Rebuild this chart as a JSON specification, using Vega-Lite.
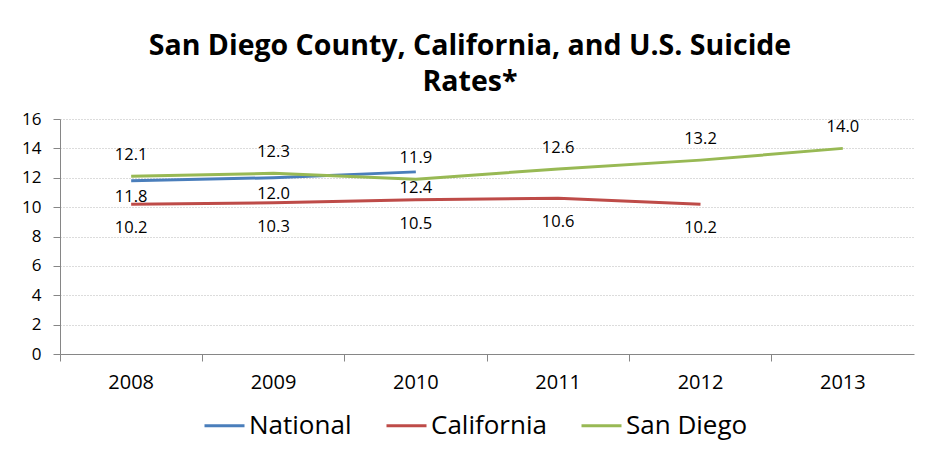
{
  "$schema": "https://vega.github.io/schema/vega-lite/v6.json",
  "width": 854,
  "height": 235,
  "autosize": {"type": "none"},
  "padding": {"left": 60, "top": 119, "right": 23, "bottom": 99},
  "background": "white",
  "title": {
    "text": ["San Diego County, California, and U.S. Suicide", "Rates*"],
    "font": "Open Sans",
    "fontWeight": "bold",
    "fontSize": 28.5,
    "lineHeight": 36,
    "color": "#000000",
    "anchor": "middle",
    "dx": -17,
    "offset": 14
  },
  "data": {
    "values": [
      {"year": "2008", "series": "National", "rate": 11.8},
      {"year": "2009", "series": "National", "rate": 12.0},
      {"year": "2010", "series": "National", "rate": 12.4},
      {"year": "2008", "series": "California", "rate": 10.2},
      {"year": "2009", "series": "California", "rate": 10.3},
      {"year": "2010", "series": "California", "rate": 10.5},
      {"year": "2011", "series": "California", "rate": 10.6},
      {"year": "2012", "series": "California", "rate": 10.2},
      {"year": "2008", "series": "San Diego", "rate": 12.1},
      {"year": "2009", "series": "San Diego", "rate": 12.3},
      {"year": "2010", "series": "San Diego", "rate": 11.9},
      {"year": "2011", "series": "San Diego", "rate": 12.6},
      {"year": "2012", "series": "San Diego", "rate": 13.2},
      {"year": "2013", "series": "San Diego", "rate": 14.0}
    ]
  },
  "encoding": {
    "x": {
      "field": "year",
      "type": "ordinal",
      "scale": {"type": "band", "paddingInner": 0, "paddingOuter": 0, "domain": ["2008", "2009", "2010", "2011", "2012", "2013"]}
    },
    "y": {
      "field": "rate",
      "type": "quantitative",
      "scale": {"domain": [0, 16], "nice": false, "zero": true},
      "axis": {
        "title": null,
        "values": [0, 2, 4, 6, 8, 10, 12, 14, 16],
        "grid": true,
        "gridColor": "#b8b8b8",
        "gridDash": [1, 2],
        "gridWidth": 1,
        "domainColor": "#868686",
        "tickColor": "#868686",
        "tickSize": 7,
        "labelPadding": 12,
        "labelFont": "Open Sans",
        "labelFontSize": 17,
        "labelColor": "#000000"
      }
    }
  },
  "layer": [
    {
      "mark": {"type": "line", "strokeWidth": 3},
      "encoding": {
        "x": {
          "field": "year",
          "type": "ordinal",
          "axis": {
            "orient": "bottom",
            "title": null,
            "ticks": false,
            "grid": false,
            "labelAngle": 0,
            "domainColor": "#868686",
            "labelPadding": 18,
            "labelFont": "Open Sans",
            "labelFontSize": 20,
            "labelColor": "#000000"
          }
        },
        "color": {
          "field": "series",
          "type": "nominal",
          "scale": {"domain": ["National", "California", "San Diego"], "range": ["#4a7ebb", "#be4b48", "#98b954"]},
          "legend": {
            "orient": "none",
            "legendX": 143,
            "legendY": 285,
            "direction": "horizontal",
            "title": null,
            "symbolType": "stroke",
            "symbolSize": 1600,
            "symbolStrokeWidth": 3,
            "labelFont": "Open Sans",
            "labelFontSize": 26,
            "labelColor": "#000000",
            "labelOffset": 3,
            "labelLimit": 300,
            "columnPadding": 28
          }
        }
      }
    },
    {
      "transform": [{"filter": "datum.series === 'National'"}],
      "mark": {"type": "text", "dy": 16, "font": "Open Sans", "fontSize": 16.5, "color": "#000000"},
      "encoding": {
        "x": {
          "field": "year",
          "type": "ordinal",
          "axis": {
            "orient": "bottom",
            "title": null,
            "labels": false,
            "domain": false,
            "grid": false,
            "ticks": true,
            "bandPosition": 0,
            "tickSize": 7,
            "tickColor": "#868686"
          }
        },
        "text": {"field": "rate", "type": "quantitative", "format": ".1f"}
      }
    },
    {
      "transform": [{"filter": "datum.series === 'California'"}],
      "mark": {"type": "text", "dy": 24, "font": "Open Sans", "fontSize": 16.5, "color": "#000000"},
      "encoding": {
        "x": {"field": "year", "type": "ordinal", "axis": null},
        "text": {"field": "rate", "type": "quantitative", "format": ".1f"}
      }
    },
    {
      "transform": [{"filter": "datum.series === 'San Diego'"}],
      "mark": {"type": "text", "dy": -21, "font": "Open Sans", "fontSize": 16.5, "color": "#000000"},
      "encoding": {
        "x": {"field": "year", "type": "ordinal", "axis": null},
        "text": {"field": "rate", "type": "quantitative", "format": ".1f"}
      }
    }
  ],
  "resolve": {"axis": {"x": "independent"}},
  "config": {"view": {"stroke": null}}
}
